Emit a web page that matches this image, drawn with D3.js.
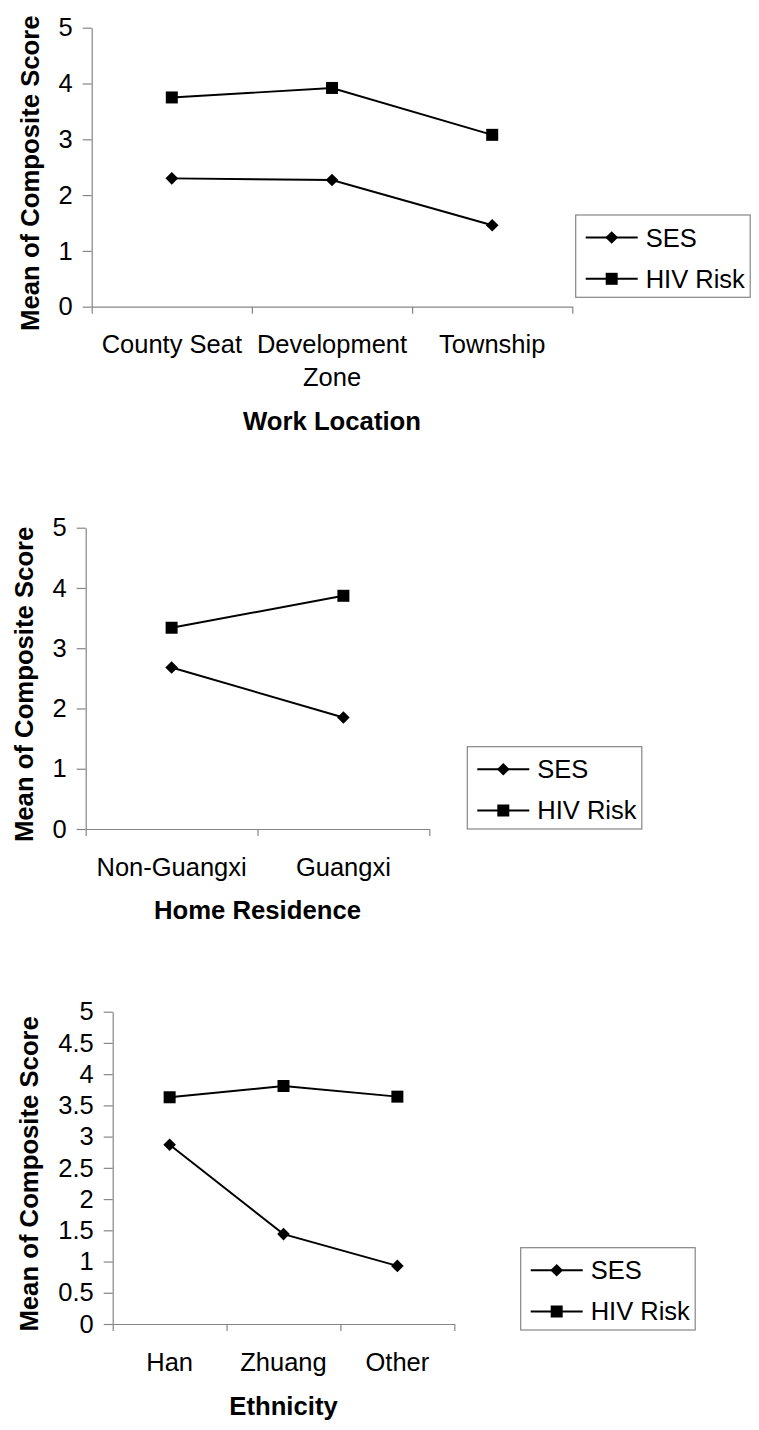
<!DOCTYPE html>
<html>
<head>
<meta charset="utf-8">
<script src="https://cdn.jsdelivr.net/npm/d3@7"></script>
<style>
  body { margin: 0; background: #fff; }
  text { font-family: "Liberation Sans", Arial, sans-serif; fill: #000; }
  .axis path, .axis line { stroke: #858585; stroke-width: 1.2; }
  .axis text { font-size: 25.5px; fill: #000; }
  .title { font-size: 25.7px; font-weight: bold; }
</style>
</head>
<body>
<div class="chart"></div>
<script>
var svgWidth = 759;
var svgHeight = 1430;

// data
var seriesNames = ["SES", "HIV Risk"];

var workLocations = ["County Seat", "Development\nZone", "Township"];
var workSES = [2.30, 2.27, 1.46];
var workHIV = [3.75, 3.92, 3.08];

var residences = ["Non-Guangxi", "Guangxi"];
var residenceSES = [2.68, 1.85];
var residenceHIV = [3.34, 3.87];

var ethnicities = ["Han", "Zhuang", "Other"];
var ethnicitySES = [2.87, 1.44, 0.93];
var ethnicityHIV = [3.63, 3.81, 3.64];

var wholeTicks = [0, 1, 2, 3, 4, 5];
var halfTicks = [0, 0.5, 1, 1.5, 2, 2.5, 3, 3.5, 4, 4.5, 5];

// layout of the three panels (pixels)
var panels = [
  { cats: workLocations, ses: workSES, hiv: workHIV, ticks: wholeTicks, xTitle: "Work Location",
    left: 91.7, right: 572.3, top: 27.7, bottom: 306.7, yTitleX: 39, xTitleY: 429.5,
    legendX: 575.7, legendY: 215 },
  { cats: residences, ses: residenceSES, hiv: residenceHIV, ticks: wholeTicks, xTitle: "Home Residence",
    left: 85.7, right: 429.3, top: 527.7, bottom: 829, yTitleX: 33, xTitleY: 918.5,
    legendX: 467.3, legendY: 746.7 },
  { cats: ethnicities, ses: ethnicitySES, hiv: ethnicityHIV, ticks: halfTicks, xTitle: "Ethnicity",
    left: 112.7, right: 454.3, top: 1011.7, bottom: 1324, yTitleX: 37.5, xTitleY: 1415,
    legendX: 520.7, legendY: 1247.7 }
];

var svg = d3.select(".chart")
  .append("svg")
  .attr("width", svgWidth)
  .attr("height", svgHeight);

svg.append("rect").attr("width", svgWidth).attr("height", svgHeight).attr("fill", "#fff");

var squareSym = d3.symbol().type(d3.symbolSquare).size(144);
var diamondSym = d3.symbol().type(d3.symbolSquare).size(80);

function drawMarker(g, kind, x, y) {
  if (kind === 0) {
    g.append("path").attr("d", diamondSym())
      .attr("transform", "translate(" + x + "," + y + ") rotate(45)")
      .attr("fill", "#000");
  } else {
    g.append("path").attr("d", squareSym())
      .attr("transform", "translate(" + x + "," + y + ")")
      .attr("fill", "#000");
  }
}

panels.forEach(function(p) {
  var chart = svg.append("g");
  var n = p.cats.length;

  var xBand = d3.scaleBand().domain(p.cats).range([p.left, p.right]).paddingInner(0).paddingOuter(0);
  var xEdges = d3.scaleLinear().domain([0, n]).range([p.left, p.right]);
  var yScale = d3.scaleLinear().domain([0, 5]).range([p.bottom, p.top]);

  // y axis
  chart.append("g")
    .attr("class", "axis")
    .attr("transform", "translate(" + p.left + ",0)")
    .call(d3.axisLeft(yScale).tickValues(p.ticks).tickSize(9).tickSizeOuter(0).tickPadding(10)
      .tickFormat(d3.format("")));

  // x axis, ticks at category edges
  chart.append("g")
    .attr("class", "axis")
    .attr("transform", "translate(0," + p.bottom + ")")
    .call(d3.axisBottom(xEdges).tickValues(d3.range(n + 1)).tickSize(7).tickSizeOuter(0)
      .tickFormat(""));

  // category labels
  p.cats.forEach(function(c) {
    var lines = c.split("\n");
    var t = chart.append("text")
      .attr("x", xBand(c) + xBand.bandwidth() / 2)
      .attr("y", p.bottom + 46.5)
      .attr("text-anchor", "middle")
      .style("font-size", "25.5px");
    lines.forEach(function(l, i) {
      t.append("tspan")
        .attr("x", xBand(c) + xBand.bandwidth() / 2)
        .attr("dy", i === 0 ? 0 : 33)
        .text(l);
    });
  });

  // axis titles
  chart.append("text")
    .attr("class", "title")
    .attr("x", (p.left + p.right) / 2)
    .attr("y", p.xTitleY)
    .attr("text-anchor", "middle")
    .text(p.xTitle);

  chart.append("text")
    .attr("class", "title")
    .attr("transform", "translate(" + p.yTitleX + "," + ((p.top + p.bottom) / 2 + 6) + ") rotate(-90)")
    .attr("text-anchor", "middle")
    .text("Mean of Composite Score");

  // series
  var line = d3.line()
    .x(function(d, i) { return xBand(p.cats[i]) + xBand.bandwidth() / 2; })
    .y(function(d) { return yScale(d); });

  [p.ses, p.hiv].forEach(function(vals, k) {
    chart.append("path")
      .datum(vals)
      .attr("d", line)
      .attr("fill", "none")
      .attr("stroke", "#000")
      .attr("stroke-width", 1.9);
    vals.forEach(function(v, i) {
      drawMarker(chart, k, xBand(p.cats[i]) + xBand.bandwidth() / 2, yScale(v));
    });
  });

  // legend
  var lg = chart.append("g").attr("transform", "translate(" + p.legendX + "," + p.legendY + ")");
  lg.append("rect")
    .attr("width", 174.5).attr("height", 82.3)
    .attr("fill", "#fff").attr("stroke", "#858585").attr("stroke-width", 1.2);
  seriesNames.forEach(function(name, k) {
    var ly = 22.5 + k * 41.3;
    lg.append("line")
      .attr("x1", 10).attr("x2", 62).attr("y1", ly).attr("y2", ly)
      .attr("stroke", "#000").attr("stroke-width", 1.9);
    drawMarker(lg, k, 36, ly);
    lg.append("text")
      .attr("x", 70).attr("y", ly + 9)
      .style("font-size", "25.5px")
      .text(name);
  });
});
</script>
</body>
</html>
